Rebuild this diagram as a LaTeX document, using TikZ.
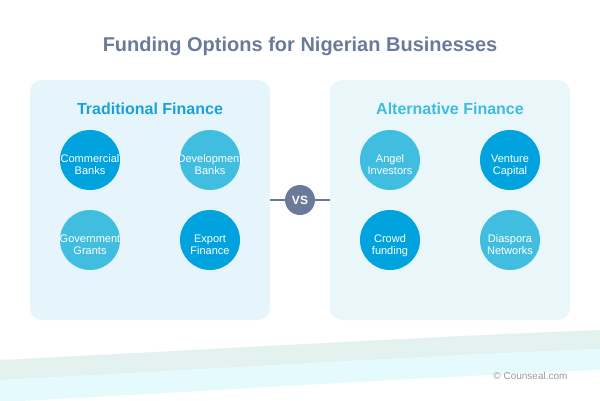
\documentclass[tikz,border=0pt]{standalone}
\usepackage{fontspec}
\setmainfont{Liberation Sans}
\usetikzlibrary{positioning}

\definecolor{titlegray}{HTML}{6B7A99}
\definecolor{tradblue}{HTML}{1BA1DA}
\definecolor{altblue}{HTML}{3FBCDF}
\definecolor{darkdot}{HTML}{00A3DD}
\definecolor{lightdot}{HTML}{41BDE0}
\definecolor{tradpanel}{HTML}{E6F4FB}
\definecolor{altpanel}{HTML}{E9F7FA}
\definecolor{bandgreen}{HTML}{E3F2EF}
\definecolor{bandcyan}{HTML}{E5FAFD}
\definecolor{notegray}{HTML}{9A9A9A}

\tikzset{
  panel/.style={rectangle, rounded corners=12pt, minimum width=240pt,
    minimum height=240pt, inner sep=0pt},
  paneltitle/.style={font=\bfseries\fontsize{16}{19}\selectfont},
  option/.style={circle, minimum size=60pt, inner sep=0pt, text=white,
    text width=40pt, align=center, font=\fontsize{11}{12}\selectfont},
  dark/.style={option, fill=darkdot},
  light/.style={option, fill=lightdot},
}

\newcommand{\band}[5]{%
  % #1 = y esquerda topo, #2 = y direita topo, #3 = y esquerda base, #4 = y direita base, #5 = cor
  \fill[#5] (0,#1) .. controls (200,#1-10) and (400,#2+8) .. (600,#2)
    -- (600,#4) .. controls (400,#4+8) and (200,#3-10) .. (0,#3) -- cycle;
}
\newcommand{\dotlabel}[2]{%
  % #1 = primeira linha, #2 = segunda linha (podem passar da bola)
  \raisebox{-8pt}[0pt][0pt]{\makebox[0pt]{#1}}\\
  \raisebox{-8pt}[0pt][0pt]{\makebox[0pt]{#2}}%
}

\begin{document}
\begin{tikzpicture}[x=1pt, y=-1pt]

    \useasboundingbox (0,0) rectangle (600,400);

    % faixas de baixo
    \begin{scope}
      \clip (0,0) rectangle (600,400);
      \band{360}{330}{380}{349}{bandgreen}
      \band{380}{349}{402}{370}{bandcyan}
    \end{scope}

    \node[text=titlegray, font=\bfseries\fontsize{20}{24}\selectfont] (title) at (300,46)
      {Funding Options for Nigerian Businesses};

    \node[panel, fill=tradpanel] (trad) at (150,200) {};
    \node[panel, fill=altpanel] (alt) at (450,200) {};

    \node[paneltitle, text=tradblue] (tradtitle) at (150,109) {Traditional Finance};
    \node[paneltitle, text=altblue] (alttitle) at (450,109) {Alternative Finance};

    \node[dark]  (cb) at (90,160)  {\dotlabel{Commercial}{Banks}};
    \node[light] (db) at (210,160) {\dotlabel{Development}{Banks}};
    \node[light] (gg) at (90,240)  {\dotlabel{Government}{Grants}};
    \node[dark]  (ef) at (210,240) {\dotlabel{Export}{Finance}};

    \node[light] (ai) at (390,160) {\dotlabel{Angel}{Investors}};
    \node[dark]  (vc) at (510,160) {\dotlabel{Venture}{Capital}};
    \node[dark]  (cf) at (390,240) {\dotlabel{Crowd}{funding}};
    \node[light] (dn) at (510,240) {\dotlabel{Diaspora}{Networks}};

    \node[circle, fill=titlegray, minimum size=30pt, inner sep=0pt, text=white,
      font=\bfseries\fontsize{12}{14}\selectfont] (vs) at (300,200) {VS};
    \draw[titlegray, line width=2pt] (trad.east) -- (vs.west);
    \draw[titlegray, line width=2pt] (vs.east) -- (alt.west);

    \node[text=notegray, font=\fontsize{10}{12}\selectfont, anchor=east] (note) at (571,376)
      {\textcopyright\ Counseal.com};

\end{tikzpicture}
\end{document}
